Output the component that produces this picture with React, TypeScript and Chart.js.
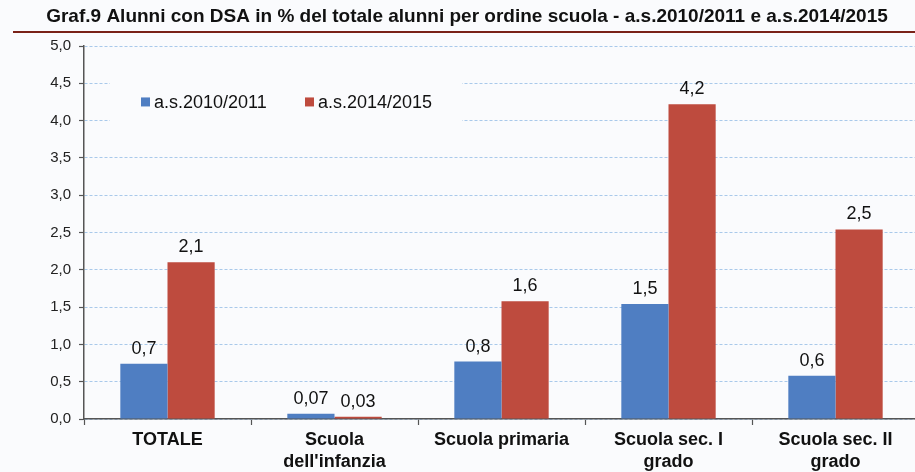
import React, { useEffect, useRef } from "react";
import { Chart, registerables } from "chart.js";

Chart.register(...registerables);

const TITLE =
  "Graf.9 Alunni con DSA in % del totale alunni per ordine scuola - a.s.2010/2011 e a.s.2014/2015";
const categories: string[][] = [
  ["TOTALE"],
  ["Scuola", "dell'infanzia"],
  ["Scuola primaria"],
  ["Scuola sec. I", "grado"],
  ["Scuola sec. II", "grado"],
];
const seriesNames = ["a.s.2010/2011", "a.s.2014/2015"];
const values2010 = [0.74, 0.07, 0.77, 1.54, 0.58];
const values2014 = [2.1, 0.03, 1.58, 4.22, 2.54];
const labels2010 = ["0,7", "0,07", "0,8", "1,5", "0,6"];
const labels2014 = ["2,1", "0,03", "1,6", "4,2", "2,5"];
const yMin = 0;
const yMax = 5;
const yStep = 0.5;

const BG = "#fafbfd";
const BLUE = "#4f7ec2";
const RED = "#be4b3e";
const FONT = "'Liberation Sans', Arial, sans-serif";

const bgPlugin = {
  id: "bgPlugin",
  beforeDraw(chart: any) {
    const { ctx, width, height } = chart;
    ctx.save();
    ctx.fillStyle = BG;
    ctx.fillRect(0, 0, width, height);
    ctx.restore();
  },
};

const titlePlugin = {
  id: "titlePlugin",
  afterDraw(chart: any) {
    const { ctx, width } = chart;
    ctx.save();
    ctx.font = `bold 19px ${FONT}`;
    ctx.fillStyle = "#111111";
    ctx.textAlign = "center";
    ctx.textBaseline = "middle";
    ctx.fillText(TITLE, 467, 17);
    ctx.strokeStyle = "#7a2218";
    ctx.lineWidth = 2;
    ctx.beginPath();
    ctx.moveTo(13, 32);
    ctx.lineTo(width, 32);
    ctx.stroke();
    ctx.restore();
  },
};

const legendPlugin = {
  id: "legendPlugin",
  afterDatasetsDraw(chart: any) {
    const { ctx, chartArea } = chart;
    const y = chart.scales.y;
    const cy = y.getPixelForValue(4.25);
    const left = chartArea.left + 26;
    ctx.save();
    ctx.fillStyle = BG;
    ctx.fillRect(left, cy - 22, 352, 44);
    ctx.font = `18px ${FONT}`;
    ctx.textBaseline = "middle";
    ctx.textAlign = "left";
    const colors = [BLUE, RED];
    let x = left + 31;
    seriesNames.forEach((name, i) => {
      ctx.fillStyle = colors[i];
      ctx.fillRect(x, cy - 4.5, 9, 9);
      ctx.fillStyle = "#111111";
      ctx.fillText(name, x + 13, cy + 1);
      x += 164;
    });
    ctx.restore();
  },
};

const dataLabelPlugin = {
  id: "dataLabelPlugin",
  afterDatasetsDraw(chart: any) {
    const { ctx } = chart;
    const allLabels = [labels2010, labels2014];
    ctx.save();
    ctx.font = `18px ${FONT}`;
    ctx.fillStyle = "#111111";
    ctx.textAlign = "center";
    ctx.textBaseline = "bottom";
    chart.data.datasets.forEach((ds: any, di: number) => {
      const meta = chart.getDatasetMeta(di);
      meta.data.forEach((bar: any, i: number) => {
        ctx.fillText(allLabels[di][i], bar.x, bar.y - 6);
      });
    });
    ctx.restore();
  },
};

export default function App() {
  const canvasRef = useRef<HTMLCanvasElement | null>(null);

  useEffect(() => {
    document.body.style.margin = "0";
    const canvas = canvasRef.current;
    if (!canvas) return;
    const chart = new Chart(canvas, {
      type: "bar",
      data: {
        labels: categories,
        datasets: [
          {
            label: seriesNames[0],
            data: values2010,
            backgroundColor: BLUE,
            borderWidth: 0,
            categoryPercentage: 0.565,
            barPercentage: 1.0,
          },
          {
            label: seriesNames[1],
            data: values2014,
            backgroundColor: RED,
            borderWidth: 0,
            categoryPercentage: 0.565,
            barPercentage: 1.0,
          },
        ],
      },
      options: {
        responsive: false,
        animation: false,
        layout: { padding: { top: 46, left: 14, right: 1, bottom: 0 } },
        plugins: {
          legend: { display: false },
          title: { display: false },
          tooltip: { enabled: false },
        },
        scales: {
          x: {
            offset: true,
            grid: {
              offset: true,
              drawOnChartArea: false,
              drawTicks: true,
              tickLength: 6,
              tickColor: "#555555",
              tickWidth: 1.2,
            },
            border: { color: "#555555", width: 1.5 },
            ticks: {
              color: "#111111",
              font: { family: FONT, size: 18, weight: "bold", lineHeight: 1.22 },
              padding: 4,
              maxRotation: 0,
              autoSkip: false,
            },
            afterFit(scale: any) {
              scale.height = 53;
            },
          },
          y: {
            min: yMin,
            max: yMax,
            grid: {
              color: "#a9c9ea",
              lineWidth: 1,
              drawTicks: true,
              tickLength: 5,
              tickColor: "#555555",
              tickWidth: 1.2,
              tickBorderDash: [],
            },
            border: { color: "#555555", width: 1.5, dash: [3, 2] },
            ticks: {
              stepSize: yStep,
              color: "#222222",
              font: { family: FONT, size: 15 },
              padding: 8,
              callback: (v: any) => Number(v).toFixed(1).replace(".", ","),
            },
            afterFit(scale: any) {
              scale.width = 70;
            },
          },
        },
      },
      plugins: [bgPlugin, legendPlugin, dataLabelPlugin, titlePlugin],
    } as any);
    return () => chart.destroy();
  }, []);

  return (
    <div
      style={{
        position: "fixed",
        left: 0,
        top: 0,
        width: 915,
        height: 472,
        overflow: "hidden",
        background: BG,
      }}
    >
      <canvas ref={canvasRef} width={920} height={472} style={{ display: "block" }} />
    </div>
  );
}
